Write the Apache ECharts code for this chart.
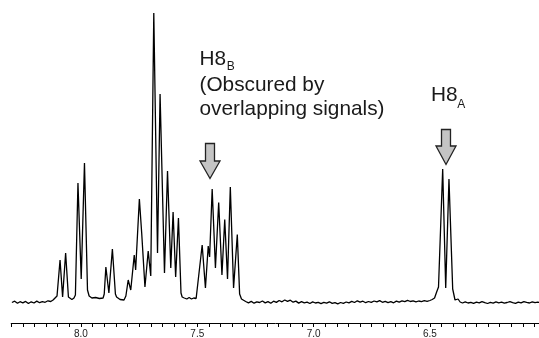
<!DOCTYPE html>
<html>
<head>
<meta charset="utf-8">
<script src="https://cdn.jsdelivr.net/npm/echarts@6/dist/echarts.min.js"></script>
<style>
html,body{margin:0;padding:0;background:#fff;}
#chart{width:539px;height:338px;}
</style>
</head>
<body>
<div id="chart"></div>
<script>
// Chemical shift (ppm) and intensity pairs
var baselineLeft = [
  [8.297,-0.5],[8.285,0.8],[8.273,-1.2],[8.262,0.3],[8.250,-0.8],[8.238,0.6],[8.226,-1.5],
  [8.214,0.2],[8.202,-1.0],[8.190,0.9],[8.178,-0.7],[8.166,0.4],[8.154,-0.3],[8.142,1.2],
  [8.130,0.5],[8.120,2.0],[8.112,2.5]
];
var groupA = [
  [8.103,6],[8.090,42],[8.079,5],[8.066,49],[8.054,5],[8.046,3],[8.039,2.5],[8.030,4],
  [8.024,7],[8.013,119],[7.999,23],[7.985,139],[7.972,12],[7.965,6],[7.953,4],[7.945,3],
  [7.937,4.5],[7.929,3],[7.921,3.5],[7.913,2.5],[7.905,4],[7.900,8],[7.893,35],[7.880,9],
  [7.865,53],[7.852,8],[7.847,5],[7.840,3],[7.832,2.5],[7.824,3.5],[7.815,2]
];
var groupB = [
  [7.807,6],[7.797,22],[7.786,12],[7.771,47],[7.765,32],[7.749,103],[7.739,69],[7.725,15],
  [7.711,51],[7.700,26],[7.687,289],[7.671,49],[7.660,208],[7.641,29],[7.628,131],[7.614,34],
  [7.604,90],[7.593,25],[7.581,84],[7.570,9],[7.565,5],[7.556,4],[7.545,3],[7.535,4.5],
  [7.525,3],[7.515,4],[7.505,3.5],[7.497,5]
];
var groupC = [
  [7.479,57],[7.465,14],[7.453,56],[7.447,45],[7.436,113],[7.422,34],[7.408,99.5],[7.394,27],
  [7.382,82.5],[7.370,23],[7.358,115],[7.344,14],[7.328,67.5],[7.318,8],[7.310,3],[7.304,1.5]
];
var baselineMid = [
  [7.292,0.5],[7.280,-0.8],[7.268,0.6],[7.256,-1.2],[7.244,0.2],[7.232,-0.5],[7.220,1.0],
  [7.208,-0.9],[7.196,0.4],[7.184,-1.3],[7.172,0.8],[7.160,-0.4],[7.148,1.5],[7.136,0.2],
  [7.124,2.0],[7.112,0.6],[7.100,1.8],[7.088,-0.2],[7.076,0.9],[7.064,-1.1],[7.052,0.3],
  [7.040,-0.9],[7.028,-0.2],[7.016,-1.5],[7.004,0.1],[6.992,-1.0],[6.980,-0.3],[6.968,-1.6],
  [6.956,-0.4],[6.944,-1.2],[6.932,0.2],[6.920,-1.4],[6.908,-0.6],[6.896,-1.8],[6.884,-0.5],
  [6.872,-1.3],[6.860,0.0],[6.848,-0.9],[6.836,0.6],[6.824,-0.5],[6.812,1.2],[6.800,-0.2],
  [6.788,0.8],[6.776,-0.7],[6.764,0.5],[6.752,-0.4],[6.740,1.0],[6.728,0.1],[6.716,1.4],
  [6.704,-0.3],[6.692,0.7],[6.680,-0.6],[6.668,0.4],[6.656,-0.8],[6.644,0.9],[6.632,-0.2],
  [6.620,1.1],[6.608,0.3],[6.596,1.6],[6.584,0.5],[6.572,1.2],[6.560,0.2],[6.548,1.0],
  [6.536,0.4],[6.524,1.3],[6.512,0.6],[6.500,1.5],[6.490,2.5],[6.480,4]
];
var groupH8A = [
  [6.471,10],[6.463,15],[6.445,133],[6.432,14],[6.418,123],[6.402,13],[6.392,2],[6.379,3],
  [6.370,0],[6.360,-1]
];
var baselineRight = [
  [6.348,0.2],[6.336,-1.0],[6.324,-0.3],[6.312,-1.4],[6.300,-0.2],[6.288,-0.9],[6.276,0.4],
  [6.264,-0.7],[6.252,-1.5],[6.240,-0.4],[6.228,-1.1],[6.216,0.1],[6.204,-0.8],[6.192,-0.2],
  [6.180,-1.2],[6.168,-0.5],[6.156,0.3],[6.144,-0.6],[6.132,-1.3],[6.120,-0.1],[6.108,-0.9],
  [6.096,0.4],[6.084,-0.4],[6.072,-1.0],[6.060,0.2],[6.048,-0.6],[6.036,-0.1],[6.025,-0.8]
];
var majorTickLabels = ['8.0','7.5','7.0','6.5'];

var spectrum = [].concat(baselineLeft, groupA, groupB, groupC, baselineMid, groupH8A, baselineRight);

var chart = echarts.init(document.getElementById('chart'), null, {renderer:'canvas'});
var FONT = '"Liberation Sans", Arial, sans-serif';
var TXT = '#1a1a1a';
chart.setOption({
  animation: false,
  backgroundColor: '#ffffff',
  grid: {left: 11.2, top: 12, width: 535, height: 311, containLabel: false, outerBoundsMode: 'none'},
  xAxis: {
    type: 'value', inverse: true, min: 6.0, max: 8.3, interval: 0.05,
    axisLine: {show: true, onZero: false, lineStyle: {color: '#000', width: 1}},
    axisTick: {show: true, length: 4, lineStyle: {color: '#000', width: 1}},
    splitLine: {show: false},
    axisLabel: {
      show: true, margin: 6, fontSize: 10, color: '#222', fontFamily: FONT,
      showMinLabel: true, showMaxLabel: true,
      formatter: function (v) {
        var s = (Math.round(v * 100) / 100).toFixed(1);
        return (Math.abs(v * 2 - Math.round(v * 2)) < 1e-6 && majorTickLabels.indexOf(s) >= 0) ? s : '';
      }
    }
  },
  yAxis: {type: 'value', min: -21, max: 290, show: false},
  series: [{
    type: 'line', data: spectrum, symbol: 'none', smooth: false,
    lineStyle: {color: '#000', width: 1.3}, clip: true
  }],
  graphic: [
    {type: 'text', x: 199.5, y: 59.5, style: {text: 'H8', font: '20.8px ' + FONT, fill: TXT, textAlign: 'left', textVerticalAlign: 'middle'}},
    {type: 'text', x: 226.8, y: 67, style: {text: 'B', font: '12px ' + FONT, fill: TXT, textAlign: 'left', textVerticalAlign: 'middle'}},
    {type: 'text', x: 199.5, y: 85.3, style: {text: '(Obscured by', font: '20.8px ' + FONT, fill: TXT, textAlign: 'left', textVerticalAlign: 'middle'}},
    {type: 'text', x: 199.5, y: 109.5, style: {text: 'overlapping signals)', font: '20.8px ' + FONT, fill: TXT, textAlign: 'left', textVerticalAlign: 'middle'}},
    {type: 'text', x: 431, y: 95.5, style: {text: 'H8', font: '20.8px ' + FONT, fill: TXT, textAlign: 'left', textVerticalAlign: 'middle'}},
    {type: 'text', x: 457.3, y: 104.2, style: {text: 'A', font: '12px ' + FONT, fill: TXT, textAlign: 'left', textVerticalAlign: 'middle'}},
    {type: 'polygon', shape: {points: [[205.5,143.5],[214.5,143.5],[214.5,161],[220,161],[210,178.5],[200,161],[205.5,161]]},
      style: {fill: '#c4c4c4', stroke: '#222', lineWidth: 1.3}},
    {type: 'polygon', shape: {points: [[441.5,129.5],[450.5,129.5],[450.5,146],[456,146],[446,164.5],[436,146],[441.5,146]]},
      style: {fill: '#c4c4c4', stroke: '#222', lineWidth: 1.3}}
  ]
});
</script>
</body>
</html>
